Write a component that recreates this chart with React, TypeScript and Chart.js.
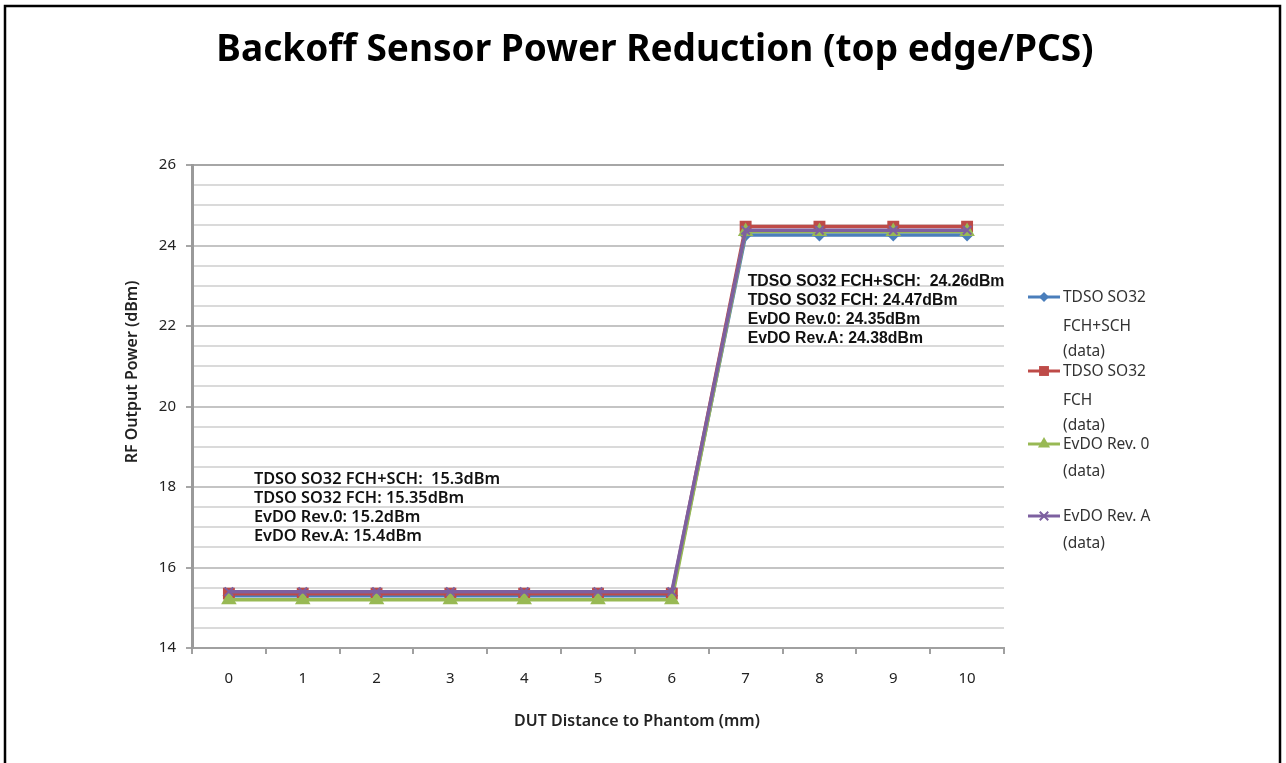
import React, { useEffect, useRef } from "react";
import { Chart, registerables } from "chart.js";

Chart.register(...registerables);

const categories = ["0", "1", "2", "3", "4", "5", "6", "7", "8", "9", "10"];
const fchSch = [15.3, 15.3, 15.3, 15.3, 15.3, 15.3, 15.3, 24.26, 24.26, 24.26, 24.26];
const fch = [15.35, 15.35, 15.35, 15.35, 15.35, 15.35, 15.35, 24.47, 24.47, 24.47, 24.47];
const evdoRev0 = [15.2, 15.2, 15.2, 15.2, 15.2, 15.2, 15.2, 24.35, 24.35, 24.35, 24.35];
const evdoRevA = [15.4, 15.4, 15.4, 15.4, 15.4, 15.4, 15.4, 24.38, 24.38, 24.38, 24.38];

const seriesNames = [
  ["TDSO SO32", "FCH+SCH", "(data)"],
  ["TDSO SO32", "FCH", "(data)"],
  ["EvDO Rev. 0", "(data)"],
  ["EvDO Rev. A", "(data)"],
];
const seriesColors = ["#4A7EBB", "#BE4B48", "#98B954", "#7D60A0"];
const seriesMarkers = ["rectRot", "rect", "triangle", "crossRot"];
const markerSizes = [5, 7, 7, 6];

const upperNotes = [
  "TDSO SO32 FCH+SCH:  24.26dBm",
  "TDSO SO32 FCH: 24.47dBm",
  "EvDO Rev.0: 24.35dBm",
  "EvDO Rev.A: 24.38dBm",
];
const lowerNotes = [
  "TDSO SO32 FCH+SCH:  15.3dBm",
  "TDSO SO32 FCH: 15.35dBm",
  "EvDO Rev.0: 15.2dBm",
  "EvDO Rev.A: 15.4dBm",
];

const chartTitle = "Backoff Sensor Power Reduction (top edge/PCS)";
const yTitle = "RF Output Power (dBm)";
const xTitle = "DUT Distance to Phantom (mm)";

const allSeries = [fchSch, fch, evdoRev0, evdoRevA];

export default function App() {
  const ref = useRef<HTMLCanvasElement>(null);
  useEffect(() => {
    document.body.style.margin = "0";
    const canvas = ref.current!;
    const decor = {
      id: "decor",
      afterDraw(chart: any) {
        const ctx = chart.ctx;
        const xs = chart.scales.x;
        const ys = chart.scales.y;
        ctx.save();
        // border
        ctx.strokeStyle = "#000";
        ctx.lineWidth = 2.5;
        ctx.strokeRect(5, 6, 1275, 800);
        // title
        ctx.fillStyle = "#000";
        ctx.textAlign = "center";
        ctx.textBaseline = "middle";
        ctx.font = "bold 37px 'Noto Sans'";
        ctx.fillText(chartTitle, 655, 50);
        // axis titles
        ctx.font = "600 16px 'Noto Sans'";
        ctx.fillStyle = "#222";
        ctx.fillText(xTitle, 637, 721);
        ctx.save();
        ctx.translate(132, 372);
        ctx.rotate(-Math.PI / 2);
        ctx.fillText(yTitle, 0, 0);
        ctx.restore();
        // annotations
        ctx.textAlign = "left";
        ctx.font = "bold 15.8px 'Liberation Sans'";
        ctx.fillStyle = "#111";
        const ux = xs.getPixelForValue(7) + 2;
        const uy = ys.getPixelForValue(23.1);
        upperNotes.forEach((t, i) => ctx.fillText(t, ux, uy + i * 19));
        ctx.font = "600 16.3px 'Noto Sans'";
        const lx = xs.getPixelForValue(0) + 25;
        const ly = ys.getPixelForValue(18.2);
        lowerNotes.forEach((t, i) => ctx.fillText(t, lx, ly + i * 19));
        // legend
        const legendY = [297, 371, 444, 516];
        ctx.font = "15.5px 'Noto Sans'";
        seriesNames.forEach((lines, i) => {
          const y = legendY[i];
          ctx.strokeStyle = seriesColors[i];
          ctx.lineWidth = 3;
          ctx.beginPath();
          ctx.moveTo(1028, y);
          ctx.lineTo(1060, y);
          ctx.stroke();
          ctx.fillStyle = seriesColors[i];
          ctx.strokeStyle = seriesColors[i];
          ctx.lineWidth = 2;
          drawMarker(ctx, seriesMarkers[i], markerSizes[i], 1044, y);
          ctx.fillStyle = "#333";
          const gaps = i < 2 ? [0, 29, 54] : [0, 27];
          lines.forEach((t, j) => ctx.fillText(t, 1063, y + 1 + gaps[j]));
        });
        ctx.restore();
      },
    };
    const chart = new Chart(canvas, {
      type: "line",
      data: {
        labels: categories,
        datasets: allSeries.map((d, i) => ({
          label: seriesNames[i].join(" "),
          data: d,
          borderColor: seriesColors[i],
          backgroundColor: seriesColors[i],
          borderWidth: 3.5,
          pointStyle: seriesMarkers[i] as any,
          pointRadius: markerSizes[i],
          pointBorderWidth: 2,
          pointBorderColor: seriesColors[i],
          pointBackgroundColor: seriesColors[i],
          order: 3 - i,
          tension: 0,
        })),
      },
      options: {
        animation: false,
        responsive: false,
        events: [],
        layout: { padding: { top: 165, right: 282, bottom: 0, left: 0 } },
        plugins: { legend: { display: false }, title: { display: false }, tooltip: { enabled: false } },
        scales: {
          x: {
            type: "category",
            offset: true,
            afterFit: (s: any) => {
              s.height = 115;
            },
            grid: {
              offset: true,
              drawOnChartArea: false,
              drawTicks: true,
              tickLength: 6,
              tickColor: "#a0a0a0",
              lineWidth: 2,
            },
            border: { display: true, color: "#a0a0a0", width: 2 },
            ticks: { font: { size: 15, family: "'Noto Sans'" }, color: "#222", padding: 16, autoSkip: false, maxRotation: 0 },
          },
          y: {
            min: 14,
            max: 26,
            afterFit: (s: any) => {
              s.width = 192;
            },
            ticks: {
              stepSize: 0.5,
              autoSkip: false,
              padding: 10,
              font: { size: 15, family: "'Noto Sans'" },
              color: "#222",
              callback: (v: any) => (Number(v) % 2 === 0 ? String(v) : ""),
            },
            grid: {
              color: (c: any) =>
                c.tick && c.tick.value === 26 ? "#a6a6a6" : c.tick && c.tick.value % 2 === 0 ? "#c4c4c4" : "#dadada",
              lineWidth: 2,
              tickLength: 6,
              tickColor: (c: any) => (c.tick && c.tick.value % 2 === 0 ? "#a6a6a6" : "rgba(0,0,0,0)"),
            },
            border: { display: true, color: "#9a9a9a", width: 3 },
          },
        },
      },
      plugins: [decor],
    });
    return () => chart.destroy();
  }, []);
  return <canvas ref={ref} width={1286} height={763} style={{ display: "block" }} />;
}

function drawMarker(ctx: CanvasRenderingContext2D, style: string, r: number, x: number, y: number) {
  ctx.beginPath();
  if (style === "rectRot") {
    ctx.moveTo(x - r, y);
    ctx.lineTo(x, y - r);
    ctx.lineTo(x + r, y);
    ctx.lineTo(x, y + r);
    ctx.closePath();
    ctx.fill();
  } else if (style === "rect") {
    const s = Math.SQRT1_2 * r;
    ctx.rect(x - s, y - s, 2 * s, 2 * s);
    ctx.fill();
  } else if (style === "triangle") {
    ctx.moveTo(x, y - r);
    ctx.lineTo(x + r * 0.866, y + r / 2);
    ctx.lineTo(x - r * 0.866, y + r / 2);
    ctx.closePath();
    ctx.fill();
  } else {
    const d = r * Math.SQRT1_2;
    ctx.moveTo(x - d, y - d);
    ctx.lineTo(x + d, y + d);
    ctx.moveTo(x + d, y - d);
    ctx.lineTo(x - d, y + d);
    ctx.stroke();
  }
}
